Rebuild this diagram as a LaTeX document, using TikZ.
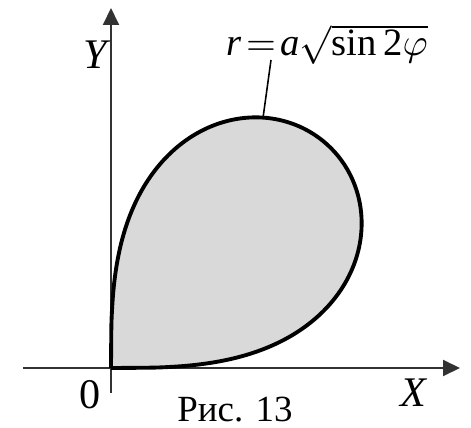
\documentclass[tikz,border=0pt]{standalone}
\usepackage{fontspec}
\setmainfont{Liberation Serif}
\usetikzlibrary{arrows.meta}
\begin{document}
\begin{tikzpicture}[x=1mm,y=1mm]
    \definecolor{myaxis}{RGB}{50,50,50}
    \definecolor{myfill}{RGB}{217,217,217}
    \tikzset{axis/.style={myaxis, line width=0.55pt, -{Triangle[length=1.7mm,width=1.6mm]}}}
    \useasboundingbox (-11.1,-5.9) rectangle (36.0,36.8);
    
    \fill[myfill] plot[domain=0:90, samples=181, smooth]
        ({31.1*sqrt(abs(sin(2*\x)))*cos(\x)}, {31.1*sqrt(abs(sin(2*\x)))*sin(\x)}) -- cycle;
    
    \draw[axis] (-8.8,0) -- (34.9,0);
    \draw[axis] (0,-2.5) -- (0,36.0);
    
    \draw[black, line width=1.1pt, line join=round] plot[domain=0:90, samples=181, smooth]
        ({31.1*sqrt(abs(sin(2*\x)))*cos(\x)}, {31.1*sqrt(abs(sin(2*\x)))*sin(\x)});
    
    \node (ylab) at (-1.6,31.3) {\fontsize{12}{14}\selectfont\itshape Y};
    \node (xlab) at (30.2,-2.5) {\fontsize{12}{14}\selectfont\itshape X};
    \node (zero) at (-2.1,-2.7) {\fontsize{12}{14}\selectfont 0};
    \node (caption) at (12.4,-4.2) {\fontsize{10.5}{13}\selectfont Рис. 13};
    \node[inner sep=0pt, anchor=base west] (formula) at (11.5,31.2)
        {\fontsize{11}{13}\selectfont\thickmuskip=2mu$\textit{r} = \textit{a}\sqrt{\textup{sin\,2}\varphi}$};
    
    \coordinate (foot) at (15.2,25.0);
    \coordinate (tip) at (16.0,30.8);
    \draw[black, line width=0.45pt] (foot) -- (tip);
\end{tikzpicture}
\end{document}
